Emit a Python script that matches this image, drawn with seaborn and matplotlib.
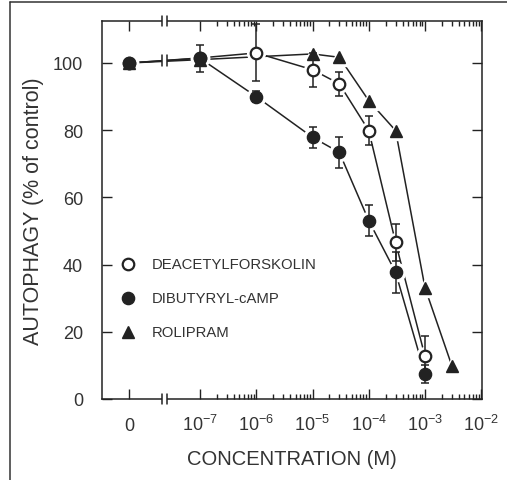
import numpy as np
import pandas as pd
import matplotlib
matplotlib.use("Agg")
import matplotlib.pyplot as plt
from matplotlib.lines import Line2D
from matplotlib.ticker import FixedLocator, FixedFormatter
import seaborn as sns

# ---------------- data ----------------
conc = [0, 1e-7, 1e-6, 1e-5, 3e-5, 1e-4, 3e-4, 1e-3]
deacetylforskolin = [100, 101.5, 103.0, 98.0, 93.8, 79.9, 46.6, 12.7]
deacetylforskolin_err = [0, 0, 8.5, 5.0, 3.5, 4.3, 5.5, 6.1]
dibutyryl_camp = [100, 101.4, 90.0, 77.9, 73.4, 53.1, 37.7, 7.4]
dibutyryl_camp_err = [0, 4.0, 1.6, 3.2, 4.6, 4.7, 6.1, 2.7]
conc_rolipram = [0, 1e-7, 1e-5, 3e-5, 1e-4, 3e-4, 1e-3, 3e-3]
rolipram = [100, 101.0, 102.7, 101.7, 88.8, 79.9, 33.1, 9.9]
series_labels = ["DEACETYLFORSKOLIN", "DIBUTYRYL-cAMP", "ROLIPRAM"]
x_tick_values = [0, 1e-7, 1e-6, 1e-5, 1e-4, 1e-3, 1e-2]
x_tick_labels = ["0", "$10^{-7}$", "$10^{-6}$", "$10^{-5}$", "$10^{-4}$", "$10^{-3}$", "$10^{-2}$"]
y_ticks = [0, 20, 40, 60, 80, 100]

# ---------------- style ----------------
sns.set_style("ticks")
plt.rcParams["font.family"] = ["Liberation Sans", "DejaVu Sans"]
plt.rcParams["mathtext.default"] = "regular"
DARK = "#222222"

DECADE_PX = 56.25
X_ZERO = -7 - 71 / DECADE_PX          # position of the "0" control on the broken axis
X_BREAK = -7 - 35.8 / DECADE_PX
BREAK_HALF = 2.5 / DECADE_PX


def xpos(c):
    return X_ZERO if c == 0 else np.log10(c)


fig = plt.figure(figsize=(5.07, 4.81), dpi=100)
ax = fig.add_axes([102 / 507, 81 / 481, 380 / 507, 378 / 481])

df = pd.concat([
    pd.DataFrame({"x": [xpos(c) for c in conc], "y": deacetylforskolin, "series": series_labels[0]}),
    pd.DataFrame({"x": [xpos(c) for c in conc], "y": dibutyryl_camp, "series": series_labels[1]}),
    pd.DataFrame({"x": [xpos(c) for c in conc_rolipram], "y": rolipram, "series": series_labels[2]}),
], ignore_index=True)

sns.lineplot(data=df, x="x", y="y", hue="series", units="series", estimator=None, sort=False,
             palette={s: DARK for s in series_labels}, linewidth=1.1, legend=False, ax=ax, zorder=2)

styles = {
    series_labels[0]: dict(marker="o", ms=8.3, mfc="white", mec=DARK, mew=1.6),
    series_labels[1]: dict(marker="o", ms=8.8, mfc=DARK, mec=DARK, mew=1.0),
    series_labels[2]: dict(marker="^", ms=9.0, mfc=DARK, mec=DARK, mew=1.0),
}
errs = {series_labels[0]: deacetylforskolin_err, series_labels[1]: dibutyryl_camp_err,
        series_labels[2]: None}

order = [series_labels[0], series_labels[2], series_labels[1]]
for k, s in enumerate(order):
    sub = df[df["series"] == s]
    st = styles[s]
    # white halo so connecting lines stop short of markers
    ax.plot(sub["x"], sub["y"], ls="none", marker=st["marker"], ms=st["ms"] + 4.5,
            mfc="white", mec="white", zorder=3)
for k, s in enumerate(order):
    sub = df[df["series"] == s]
    st = styles[s]
    if errs[s] is not None:
        ax.errorbar(sub["x"], sub["y"], yerr=errs[s], fmt="none", ecolor=DARK,
                    elinewidth=1.1, capsize=3.2, capthick=1.1, zorder=4 + k)
    ax.plot(sub["x"], sub["y"], ls="none", zorder=5 + k, **st)

# break mark on the data line between control and 1e-7
x0, x1 = xpos(conc[0]), xpos(conc[1])
yb = dibutyryl_camp[0] + (dibutyryl_camp[1] - dibutyryl_camp[0]) * (X_BREAK - x0) / (x1 - x0)
ax.plot([X_BREAK - BREAK_HALF, X_BREAK + BREAK_HALF], [yb, yb], color="white", lw=4,
        solid_capstyle="butt", zorder=8)
for xb in (X_BREAK - BREAK_HALF, X_BREAK + BREAK_HALF):
    ax.plot([xb, xb], [yb - 1.6, yb + 1.6], color=DARK, lw=1.1, zorder=9)

# axes limits / ticks
ax.set_xlim(-7 - 98 / DECADE_PX, -7 - 98 / DECADE_PX + 380 / DECADE_PX)
ax.set_ylim(0, 112.5)
ax.xaxis.set_major_locator(FixedLocator([xpos(c) for c in x_tick_values]))
ax.xaxis.set_major_formatter(FixedFormatter(x_tick_labels))
minor = [np.log10(m * 10.0 ** d) for d in range(-7, -2) for m in range(2, 10)]
ax.xaxis.set_minor_locator(FixedLocator(minor))
ax.set_yticks(y_ticks)
ax.tick_params(which="both", direction="in", top=True, right=True, color=DARK, width=1.0)
ax.tick_params(which="major", length=7.5, labelsize=13, labelcolor="#333333")
ax.tick_params(which="minor", length=3.5)
ax.tick_params(axis="y", pad=13.7)
ax.tick_params(axis="x", pad=22.5)
for t in ax.get_xticklabels():
    t.set_verticalalignment("baseline")
for sp in ax.spines.values():
    sp.set_linewidth(1.1)
    sp.set_color(DARK)
    sp.set_visible(True)

# spine breaks (bottom and top)
bt = ax.get_xaxis_transform()
h = 5 / 378
for yy in (0, 1):
    ax.plot([X_BREAK - BREAK_HALF, X_BREAK + BREAK_HALF], [yy, yy], transform=bt, color="white",
            lw=3, solid_capstyle="butt", clip_on=False, zorder=20)
    for xb in (X_BREAK - BREAK_HALF, X_BREAK + BREAK_HALF):
        ax.plot([xb, xb], [yy - h, yy + h], transform=bt, color=DARK, lw=1.1,
                clip_on=False, zorder=21)

ax.set_xlabel("CONCENTRATION (M)", fontsize=14.5, color="#333333")
ax.set_ylabel("AUTOPHAGY (% of control)", fontsize=15.5, color="#333333")
ax.xaxis.set_label_coords(0.5, -0.133)
ax.yaxis.set_label_coords(-0.152, 0.5)

# legend (manual, like the original)
leg_y = [0.357, 0.267, 0.177]
for s, yy in zip(series_labels, leg_y):
    ax.plot([0.068], [yy], transform=ax.transAxes, ls="none", zorder=10, **styles[s])
    ax.text(0.132, yy, s, transform=ax.transAxes, va="center", ha="left",
            fontsize=10.7, color="#333333")

# outer frame lines of the original figure
fig.add_artist(Line2D([9.5 / 507, 9.5 / 507], [0, 1 - 3 / 481], color="#333333", lw=1.1))
fig.add_artist(Line2D([9.5 / 507, 1], [1 - 3 / 481, 1 - 3 / 481], color="#333333", lw=1.1))

fig.savefig("out.png", dpi=100)
